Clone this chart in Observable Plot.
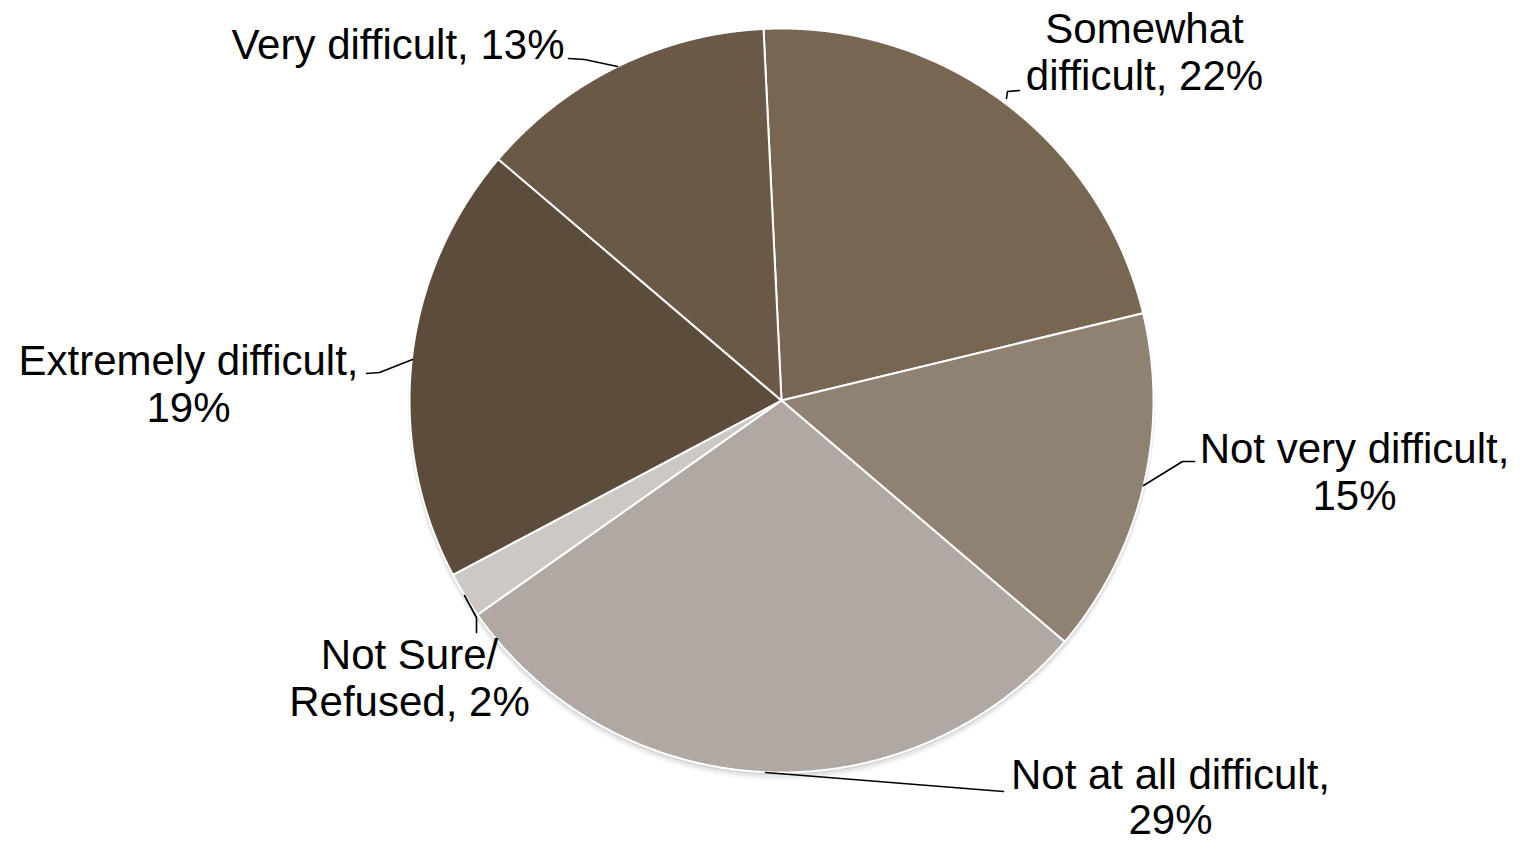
<!DOCTYPE html>
<html>
<head>
<meta charset="utf-8">
<script src="https://cdn.jsdelivr.net/npm/d3@7"></script>
<script src="https://cdn.jsdelivr.net/npm/@observablehq/plot@0.6"></script>
<style>
  html, body { margin: 0; padding: 0; background: #ffffff; overflow: hidden; }
  #chart svg { display: block; }
</style>
</head>
<body>
<div id="chart"></div>
<script>
// ---------- data ----------
const categories = ["Somewhat difficult", "Not very difficult", "Not at all difficult", "Not Sure/ Refused", "Extremely difficult", "Very difficult"];
const values = [22, 15, 29, 2, 19, 13];
const labelTexts = ["Somewhat\ndifficult, 22%", "Not very difficult,\n15%", "Not at all difficult,\n29%", "Not Sure/\nRefused, 2%", "Extremely difficult,\n19%", "Very difficult, 13%"];
const sliceColors = ["#776652", "#908273", "#b0a9a3", "#cdc8c3", "#5b4c3b", "#6b5947"];

// ---------- layout (pixels) ----------
const W = 1521, H = 842, CX = 781, CY = 400, R = 372;
const START = -2.77 * Math.PI / 180;
const toU = (px) => (px - CX) / R;
const toV = (py) => (CY - py) / R;
// label anchor (baseline of last line), text anchor and line height
const labelLayout = [
  {x: 1144, y: 89,  anchor: "middle", lh: 1.11},
  {x: 1354, y: 509, anchor: "middle", lh: 1.11},
  {x: 1170, y: 833, anchor: "middle", lh: 1.06},
  {x: 409,  y: 715, anchor: "middle", lh: 1.11},
  {x: 188,  y: 421, anchor: "middle", lh: 1.11},
  {x: 564,  y: 58,  anchor: "end",    lh: 1.11}
];
const leaderLayout = [
  [[1006, 98], [1007, 91], [1019, 90]],
  [[1143, 485], [1182, 461], [1194, 461]],
  [[765, 772], [1003, 791]],
  [[464, 595], [476, 617], [476, 632]],
  [[366, 373], [379, 372], [412, 359]],
  [[568, 58], [584, 59], [617, 66]]
];

// ---------- build ----------
const data = categories.map((c, i) => ({category: c, value: values[i], color: sliceColors[i], label: labelTexts[i]}));
const arcs = d3.pie().sort(null).value(d => d.value).startAngle(START).endAngle(START + 2 * Math.PI)(data);

const sliceMarks = arcs.map(a => {
  const n = Math.max(2, Math.ceil((a.endAngle - a.startAngle) / (0.2 * Math.PI / 180)));
  const pts = [{x: 0, y: 0}];
  for (let k = 0; k <= n; ++k) {
    const t = a.startAngle + (a.endAngle - a.startAngle) * k / n;
    pts.push({x: Math.sin(t), y: Math.cos(t)});
  }
  pts.push({x: 0, y: 0});
  return Plot.line(pts, {x: "x", y: "y", fill: a.data.color, stroke: "#ffffff", strokeWidth: 2, strokeLinejoin: "round", curve: "linear"});
});

// soft shadow under the pie
const shadowMarks = [[6, 0.10], [4, 0.16], [2, 0.22]].map(([off, op]) => {
  const pts = d3.range(0, 361, 1).map(d => {
    const t = d * Math.PI / 180;
    return {x: Math.sin(t) * (R + off * 0.3) / R, y: Math.cos(t) * (R + off * 0.3) / R - off / R};
  });
  return Plot.line(pts, {x: "x", y: "y", fill: "#000", fillOpacity: op * 0.35, stroke: "none"});
});

const leaderPts = leaderLayout.flatMap((seg, i) => seg.map(([px, py]) => ({id: i, x: toU(px), y: toV(py)})));

const textMarks = data.map((d, i) => Plot.text([d], {
  x: () => toU(labelLayout[i].x),
  y: () => toV(labelLayout[i].y),
  text: "label",
  textAnchor: labelLayout[i].anchor,
  lineAnchor: "bottom",
  lineHeight: labelLayout[i].lh,
  fontSize: 42,
  fontFamily: "'Liberation Sans', Arial, Helvetica, sans-serif",
  fill: "#000000"
}));

const chart = Plot.plot({
  width: W,
  height: H,
  margin: 0,
  x: {domain: [toU(0), toU(W)], axis: null},
  y: {domain: [toV(H), toV(0)], axis: null},
  style: {background: "#ffffff", fontFamily: "'Liberation Sans', Arial, sans-serif"},
  marks: [
    ...shadowMarks,
    ...sliceMarks,
    Plot.line(leaderPts, {x: "x", y: "y", z: "id", stroke: "#000000", strokeWidth: 1.6, curve: "linear"}),
    ...textMarks
  ]
});
document.getElementById("chart").appendChild(chart);
</script>
</body>
</html>
